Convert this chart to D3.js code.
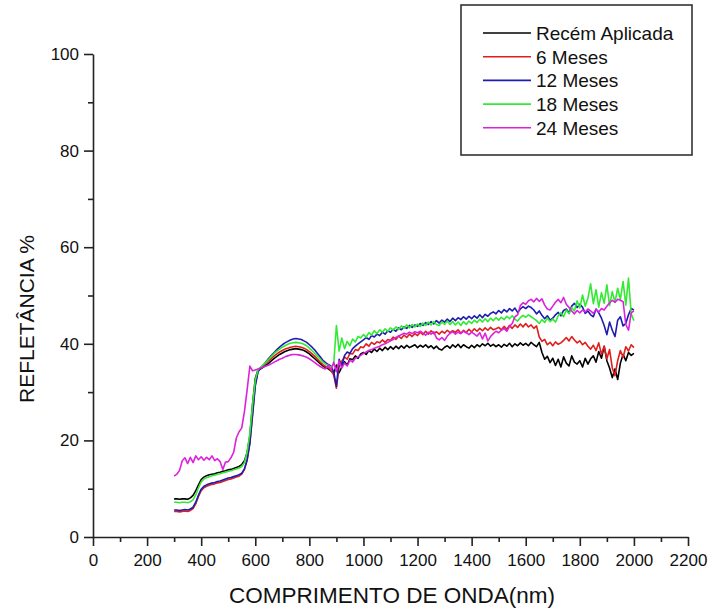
<!DOCTYPE html>
<html>
<head>
<meta charset="utf-8">
<script src="https://cdn.jsdelivr.net/npm/d3@7"></script>
<style>
  html, body { margin: 0; padding: 0; background: #fff; }
  svg { display: block; }
  text { font-family: "Liberation Sans", Arial, sans-serif; fill: #111; }
</style>
</head>
<body>
<svg id="chart" width="712" height="614"></svg>
<script>
// Spectral reflectance of the coating after different exposure times.
// Sampling grid: 300–2000 nm every 10 nm.
const wavelengths = d3.range(300, 2001, 10);

const seriesNames = ["Recém Aplicada", "6 Meses", "12 Meses", "18 Meses", "24 Meses"];
const seriesColors = ["#000000", "#e01e1e", "#1c1cb0", "#33ea33", "#dc22dc"];

const recemAplicada = [
  7.9, 7.9, 7.8, 7.9, 7.9, 7.8, 8.1, 8.6, 9.6, 10.8,
  11.9, 12.4, 12.7, 12.9, 13.0, 13.1, 13.3, 13.4, 13.6, 13.7,
  13.9, 14.0, 14.2, 14.4, 14.6, 15.0, 15.8, 17.5, 21.0, 27.5,
  32.8, 34.6, 34.8, 35.2, 35.6, 36.0, 36.5, 37.0, 37.4, 37.8,
  38.1, 38.4, 38.6, 38.8, 38.9, 39.0, 38.9, 38.8, 38.6, 38.3,
  37.9, 37.4, 36.9, 36.4, 35.9, 35.4, 35.1, 34.8, 34.4, 33.8,
  35.6, 34.0, 35.2, 36.3, 35.6, 36.9, 36.7, 37.5, 37.0, 37.9,
  38.2, 37.8, 38.6, 38.2, 38.9, 38.4, 39.1, 38.6, 39.3, 38.8,
  39.4, 38.9, 39.5, 39.0, 39.6, 39.1, 39.7, 39.2, 39.5, 39.8,
  39.2, 39.7, 39.3, 39.8, 39.2, 39.6, 39.0, 39.5, 38.9, 38.7,
  39.3, 39.6, 39.1, 39.8, 39.3, 39.9, 39.2, 39.8, 39.4, 39.1,
  39.7, 39.2, 39.8, 39.4, 40.0, 39.6, 40.1, 39.5, 39.9, 39.4,
  39.8, 39.3, 39.9, 39.5, 40.1, 39.4, 40.0, 39.6, 40.2, 39.7,
  40.1, 39.6, 40.3, 39.8, 39.4, 40.3, 38.2, 36.8, 37.4, 36.1,
  37.0, 35.5, 36.8, 35.2, 37.3, 36.0, 35.4, 37.5, 36.2, 35.8,
  36.5, 35.2, 37.0, 35.8, 36.9, 37.5, 36.2, 38.4, 37.0, 39.5,
  36.5, 35.0, 33.0, 34.8, 32.6, 36.0, 37.8, 36.5, 38.2, 37.6,
  38.0
];

const meses6 = [
  5.3, 5.3, 5.2, 5.3, 5.4, 5.3, 5.5, 5.9, 6.9, 8.4,
  9.6, 10.2, 10.5, 10.7, 10.9, 11.0, 11.2, 11.3, 11.5, 11.7,
  11.9, 12.0, 12.2, 12.4, 12.6, 13.0, 14.0, 16.0, 19.5, 25.5,
  31.5, 34.3, 35.0, 35.5, 36.0, 36.5, 37.0, 37.5, 37.9, 38.3,
  38.6, 38.9, 39.1, 39.3, 39.4, 39.5, 39.4, 39.3, 39.1, 38.8,
  38.4, 37.9, 37.4, 36.8, 36.2, 35.7, 35.3, 35.0, 34.6, 33.5,
  30.8, 35.2, 36.4, 37.3, 36.8, 38.0, 37.9, 38.8, 38.6, 39.4,
  39.2, 40.0, 39.5, 40.3, 39.9, 40.4, 40.2, 40.8, 40.3, 40.9,
  40.7, 41.4, 40.9, 41.6, 41.1, 41.8, 41.3, 42.0, 41.5, 42.1,
  41.7, 42.4, 41.9, 42.6, 42.0, 42.7, 42.1, 42.5, 42.0, 42.6,
  42.2, 42.8, 42.3, 42.7, 42.4, 42.9, 42.2, 42.8, 42.3, 43.0,
  42.5, 43.1, 42.6, 43.2, 42.7, 43.3, 42.8, 43.4, 42.9, 43.1,
  43.4, 42.9, 43.6, 43.0, 43.8, 43.2, 43.9, 43.4, 44.1, 43.5,
  44.2, 43.5, 43.9, 43.2, 43.7, 41.4, 40.5, 40.9, 39.8, 40.3,
  39.6, 40.4, 39.9, 40.2, 40.7, 41.3, 40.6, 41.5, 40.8, 40.2,
  40.6, 39.8, 40.3, 39.5, 38.9, 39.7, 38.6, 40.2, 37.8, 39.5,
  36.9, 38.8, 35.0, 33.4, 36.5, 38.6, 37.2, 39.4, 38.5, 39.8,
  39.2
];

const meses12 = [
  5.6, 5.6, 5.5, 5.6, 5.7, 5.6, 5.8, 6.2, 7.2, 8.7,
  9.9, 10.5, 10.8, 11.0, 11.2, 11.3, 11.5, 11.6, 11.8, 12.0,
  12.2, 12.3, 12.5, 12.7, 12.9, 13.2, 14.1, 16.0, 19.4, 25.3,
  31.3, 34.2, 35.0, 35.6, 36.3, 37.0, 37.6, 38.2, 38.8, 39.3,
  39.8, 40.2, 40.5, 40.8, 41.0, 41.1, 41.0, 40.9, 40.6, 40.3,
  39.8, 39.3, 38.7, 38.0, 37.3, 36.6, 36.1, 35.7, 35.4, 34.2,
  31.2, 36.8, 35.4, 37.6, 38.3, 38.0, 39.0, 39.5, 40.0, 40.4,
  40.8, 41.3, 40.9, 41.7, 41.4, 42.0, 41.7, 42.4, 42.0, 42.7,
  42.4, 43.0, 42.6, 43.3, 42.9, 43.5, 43.2, 43.8, 43.4, 43.9,
  43.6, 44.2, 43.8, 44.4, 44.0, 44.6, 44.1, 44.8, 44.3, 44.9,
  44.5, 45.1, 44.6, 45.3, 44.8, 45.4, 45.0, 45.6, 45.1, 45.7,
  45.2, 45.8, 45.3, 46.0, 45.4, 46.1, 45.7, 46.3, 46.6, 46.2,
  46.9, 46.4, 47.1, 46.6, 47.3, 46.8, 47.4, 46.5, 47.2, 47.7,
  47.3, 47.8, 47.5, 47.0, 46.2, 46.8, 45.9, 45.2, 45.8, 44.9,
  45.3, 46.0, 46.5, 45.8, 46.9, 47.2, 46.4, 47.8, 48.4, 47.5,
  48.2, 47.6, 46.3, 46.8, 46.0, 45.6, 47.2, 46.4, 45.3, 43.8,
  41.9, 44.5, 42.8, 41.5, 44.9, 45.6, 43.7, 44.2, 46.0, 47.3,
  47.0
];

const meses18 = [
  7.2, 7.2, 7.1, 7.2, 7.2, 7.1, 7.3, 7.7, 8.7, 10.2,
  11.4, 12.0, 12.3, 12.5, 12.7, 12.8, 13.0, 13.1, 13.3, 13.4,
  13.6, 13.7, 13.9, 14.1, 14.3, 14.6, 15.4, 17.6, 21.5, 27.5,
  32.5, 34.6, 35.2, 35.7, 36.2, 36.8, 37.4, 38.0, 38.5, 38.9,
  39.3, 39.6, 39.9, 40.1, 40.2, 40.3, 40.2, 40.1, 39.9, 39.6,
  39.1, 38.6, 38.0, 37.4, 36.8, 36.2, 35.8, 35.5, 35.2, 35.8,
  43.8, 38.5, 41.2, 39.0, 40.5, 39.6, 41.0, 40.4, 41.5, 41.2,
  41.9, 41.4, 42.3, 41.8, 42.7, 42.1, 42.9, 42.4, 43.1, 42.6,
  43.3, 42.8, 43.5, 43.0, 43.7, 43.2, 43.9, 43.3, 44.0, 43.5,
  44.1, 43.6, 44.3, 43.8, 44.5, 43.9, 44.6, 44.0, 43.8, 44.5,
  44.0, 44.7, 44.0, 44.6, 43.9, 44.5, 43.8, 44.6, 44.0, 44.7,
  44.2, 44.9, 44.4, 45.1, 44.5, 45.2, 44.6, 45.3, 44.8, 45.4,
  44.9, 45.5, 45.0, 45.7, 45.2, 45.8, 45.1, 44.7, 45.4, 45.9,
  45.5, 46.0, 45.6, 45.2, 44.8, 44.2, 45.0, 44.4, 45.3, 44.6,
  45.1, 44.5, 45.8, 46.4, 45.6, 47.0, 46.2, 47.5, 46.8, 48.9,
  47.4, 50.1, 47.8, 49.5, 52.4, 48.3, 51.2, 47.6, 50.6, 48.4,
  52.2, 47.9, 50.8, 48.6, 51.5, 49.2, 52.9, 48.0, 53.6, 46.2,
  44.8
];

const meses24 = [
  12.6, 13.0, 13.8, 15.8, 16.4, 15.2, 16.5, 15.4, 16.8, 16.0,
  16.6, 15.9, 16.5, 16.0, 16.8, 15.8, 16.2, 15.6, 14.0, 15.5,
  15.6, 16.4, 17.5, 20.5, 21.8, 22.6, 26.0, 30.5, 35.4, 34.4,
  34.6, 34.8, 35.0, 35.2, 35.4, 35.6, 35.9, 36.2, 36.5, 36.8,
  37.0, 37.3, 37.5, 37.7, 37.8, 37.8, 37.7, 37.6, 37.4, 37.2,
  36.9, 36.5, 36.1, 35.7, 35.3, 35.0, 34.8, 35.6, 34.6, 36.2,
  34.2, 36.5, 35.0, 36.0, 35.4, 36.6, 36.2, 37.0, 37.3, 37.6,
  38.0, 38.3, 38.6, 38.8, 39.1, 39.3, 39.5, 39.8, 40.0, 40.3,
  40.6, 40.9, 41.3, 41.6, 41.9, 42.2, 42.0, 42.4, 42.1, 42.5,
  42.3, 42.6, 42.2, 41.8, 42.4, 42.0, 42.5, 41.2, 40.8, 41.3,
  40.7, 41.6, 42.2, 42.5, 42.0, 42.4, 42.1, 42.6, 42.3, 41.9,
  42.4, 42.0, 41.6, 42.3, 41.0, 42.2, 40.6, 41.5, 42.1, 42.6,
  42.3, 42.8, 43.2, 42.6, 43.6, 44.2, 45.6, 46.0, 47.9, 48.5,
  48.2, 48.9, 49.2, 48.7, 49.4, 48.8, 49.3, 48.0, 47.2, 47.0,
  47.8, 48.6, 49.2, 48.5, 49.6, 48.2, 47.5, 46.8, 46.2, 46.9,
  46.4, 47.0, 46.6, 47.2, 46.8, 46.3, 47.1, 46.6, 47.3, 47.0,
  47.8, 48.5, 49.0, 48.6, 49.2, 49.0, 48.7, 44.0, 42.8, 46.4,
  46.8
];

const seriesValues = [recemAplicada, meses6, meses12, meses18, meses24];

const xMajorTicks = d3.range(0, 2201, 200);
const xMinorTicks = d3.range(100, 2200, 200);
const yMajorTicks = [0, 20, 40, 60, 80, 100];
const yMinorTicks = [10, 30, 50, 70, 90];

const svg = d3.select("#chart");

const x = d3.scaleLinear().domain([0, 2200]).range([93, 688]);
const y = d3.scaleLinear().domain([0, 100]).range([537, 54]);

// Axes: major ticks with labels, minor ticks without
svg.append("g").attr("transform", `translate(0,${y(0)})`)
  .call(d3.axisBottom(x).tickValues(xMajorTicks).tickSize(9).tickSizeOuter(0).tickPadding(8).tickFormat(d3.format("d")));
svg.append("g").attr("transform", `translate(0,${y(0)})`)
  .call(d3.axisBottom(x).tickValues(xMinorTicks).tickSize(5).tickSizeOuter(0).tickFormat(""))
  .call(g => g.select(".domain").remove());

svg.append("g").attr("transform", `translate(${x(0)},0)`)
  .call(d3.axisLeft(y).tickValues(yMajorTicks).tickSize(9).tickSizeOuter(0).tickPadding(5));
svg.append("g").attr("transform", `translate(${x(0)},0)`)
  .call(d3.axisLeft(y).tickValues(yMinorTicks).tickSize(5).tickSizeOuter(0).tickFormat(""))
  .call(g => g.select(".domain").remove());

svg.selectAll(".domain, .tick line").attr("stroke", "#222").attr("stroke-width", 1.6);
svg.selectAll(".tick text").attr("font-size", 17).attr("fill", "#111")
  .style("font-family", "'Liberation Sans', Arial, sans-serif");

// Axis titles
svg.append("text")
  .attr("x", 392).attr("y", 603)
  .attr("text-anchor", "middle")
  .attr("font-size", 22.5)
  .text("COMPRIMENTO DE ONDA(nm)");

svg.append("text")
  .attr("transform", `translate(34,${319}) rotate(-90)`)
  .attr("text-anchor", "middle")
  .attr("font-size", 21)
  .text("REFLETÂNCIA %");

// Spectra
const line = d3.line()
  .x((d, i) => x(wavelengths[i]))
  .y(d => y(d));

svg.append("g").selectAll("path")
  .data(seriesValues)
  .join("path")
  .attr("d", d => line(d))
  .attr("fill", "none")
  .attr("stroke", (d, i) => seriesColors[i])
  .attr("stroke-width", 1.6)
  .attr("stroke-linejoin", "round");

// Legend
const legend = svg.append("g");
legend.append("rect")
  .attr("x", 461).attr("y", 5)
  .attr("width", 231).attr("height", 150)
  .attr("fill", "#fff")
  .attr("stroke", "#333").attr("stroke-width", 1.6);

const rows = legend.selectAll("g.row")
  .data(seriesNames)
  .join("g")
  .attr("class", "row")
  .attr("transform", (d, i) => `translate(0,${33 + i * 23.7})`);

rows.append("line")
  .attr("x1", 483).attr("x2", 531)
  .attr("y1", 0).attr("y2", 0)
  .attr("stroke", (d, i) => seriesColors[i])
  .attr("stroke-width", 1.6);

rows.append("text")
  .attr("x", 536).attr("y", 0)
  .attr("dy", "0.36em")
  .attr("font-size", 19)
  .text(d => d);
</script>
</body>
</html>
